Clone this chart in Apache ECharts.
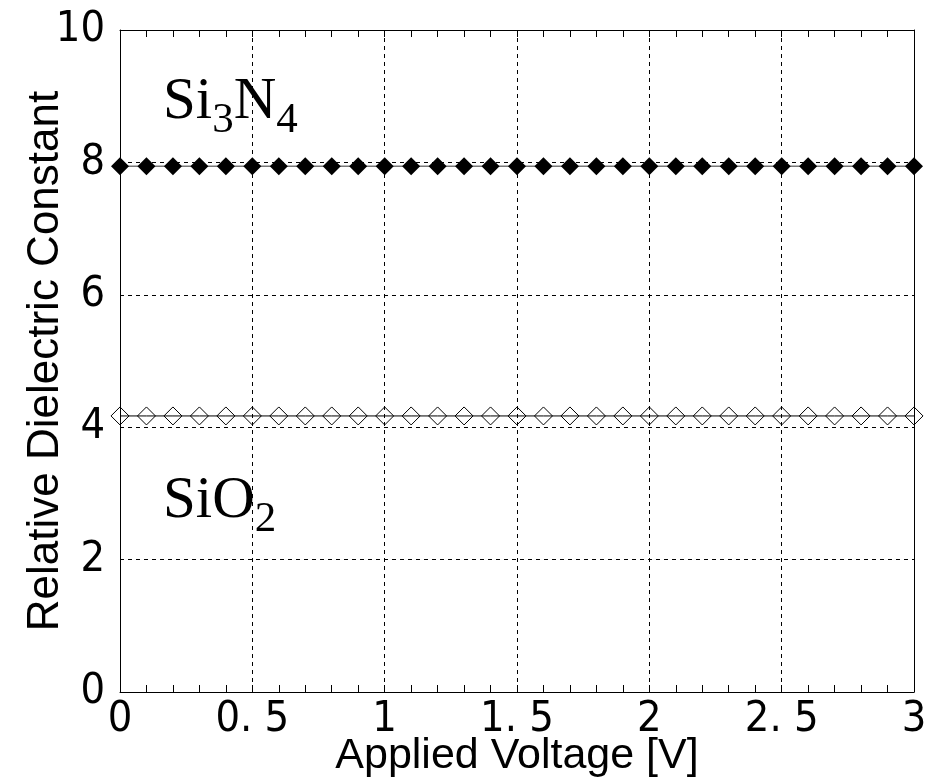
<!DOCTYPE html>
<html>
<head>
<meta charset="utf-8">
<script src="https://cdn.jsdelivr.net/npm/echarts@6/dist/echarts.min.js"></script>
<style>
  html, body { margin: 0; padding: 0; background: #fff; }
  #chart { width: 940px; height: 778px; }
</style>
</head>
<body>
<div id="chart"></div>
<script>
// applied voltage samples [V]
const voltage = [0, 0.1, 0.2, 0.3, 0.4, 0.5, 0.6, 0.7, 0.8, 0.9, 1.0,
  1.1, 1.2, 1.3, 1.4, 1.5, 1.6, 1.7, 1.8, 1.9, 2.0,
  2.1, 2.2, 2.3, 2.4, 2.5, 2.6, 2.7, 2.8, 2.9, 3.0];
// relative dielectric constant
const si3n4 = [7.94, 7.94, 7.94, 7.94, 7.94, 7.94, 7.94, 7.94, 7.94, 7.94, 7.94,
  7.94, 7.94, 7.94, 7.94, 7.94, 7.94, 7.94, 7.94, 7.94, 7.94,
  7.94, 7.94, 7.94, 7.94, 7.94, 7.94, 7.94, 7.94, 7.94, 7.94];
const sio2 = [4.17, 4.17, 4.17, 4.17, 4.17, 4.17, 4.17, 4.17, 4.17, 4.17, 4.17,
  4.17, 4.17, 4.17, 4.17, 4.17, 4.17, 4.17, 4.17, 4.17, 4.17,
  4.17, 4.17, 4.17, 4.17, 4.17, 4.17, 4.17, 4.17, 4.17, 4.17];
const xTicks = [0, 0.5, 1, 1.5, 2, 2.5, 3];
const xTickLabels = ["0", "0. 5", "1", "1. 5", "2", "2. 5", "3"];

const numFont = '"Liberation Sans Narrow", "DejaVu Sans Condensed", "Noto Sans CJK JP", sans-serif';
const titleFont = '"Liberation Sans", Arial, sans-serif';
const serif = '"Liberation Serif", "Times New Roman", serif';

function xLabel(v) {
  const i = xTicks.findIndex((t) => Math.abs(t - v) < 1e-6);
  return i >= 0 ? xTickLabels[i] : "";
}

const chart = echarts.init(document.getElementById("chart"), null, { renderer: "canvas" });

const dashed = { color: "#000", width: 1, type: [4, 4] };

const baseX = {
  type: "value",
  min: 0,
  max: 3,
  interval: 0.5,
  axisLine: { show: true, onZero: false, lineStyle: { color: "#000", width: 1 } },
  axisTick: { show: true, inside: true, length: 7, lineStyle: { color: "#000" } },
  minorTick: { show: true, splitNumber: 5, length: 7, lineStyle: { color: "#000" } },
};

chart.setOption({
  animation: false,
  backgroundColor: "#fff",
  grid: { left: 120, right: 26, top: 30, bottom: 86, containLabel: false, outerBoundsMode: "none" },
  xAxis: [
    Object.assign({}, baseX, {
      position: "bottom",
      name: "Applied Voltage [V]",
      nameLocation: "middle",
      nameGap: 43,
      nameMoveOverlap: false,
      nameTextStyle: { fontFamily: titleFont, fontSize: 43, color: "#000" },
      axisLabel: {
        formatter: xLabel,
        fontFamily: numFont,
        fontSize: 43,
        color: "#000",
        margin: 6,
      },
      splitLine: { show: true, lineStyle: dashed },
    }),
    Object.assign({}, baseX, {
      position: "top",
      axisLabel: { show: false },
      splitLine: { show: false },
    }),
  ],
  yAxis: [
    {
      type: "value",
      min: 0,
      max: 10,
      interval: 2,
      position: "left",
      name: "Relative Dielectric Constant",
      nameLocation: "middle",
      nameGap: 52,
      nameMoveOverlap: false,
      nameTextStyle: { fontFamily: titleFont, fontSize: 44, color: "#000" },
      axisLine: { show: true, onZero: false, lineStyle: { color: "#000", width: 1 } },
      axisTick: { show: false },
      axisLabel: { fontFamily: numFont, fontSize: 43, color: "#000", margin: 15 },
      splitLine: { show: true, lineStyle: dashed },
    },
    {
      type: "value",
      min: 0,
      max: 10,
      interval: 2,
      position: "right",
      axisLine: { show: true, onZero: false, lineStyle: { color: "#000", width: 1 } },
      axisTick: { show: false },
      axisLabel: { show: false },
      splitLine: { show: false },
    },
  ],
  series: [
    {
      name: "Si3N4",
      type: "line",
      data: voltage.map((v, i) => [v, si3n4[i]]),
      symbol: "diamond",
      symbolSize: 18,
      itemStyle: { color: "#000", borderColor: "#000", borderWidth: 0 },
      lineStyle: { color: "#777", width: 1.5 },
      z: 5,
    },
    {
      name: "SiO2",
      type: "line",
      data: voltage.map((v, i) => [v, sio2[i]]),
      symbol: "diamond",
      symbolSize: 18,
      itemStyle: { color: "rgba(255,255,255,0)", borderColor: "#000", borderWidth: 1 },
      lineStyle: { color: "#000", width: 1 },
      z: 5,
    },
  ],
  graphic: [
    {
      type: "text",
      left: 163,
      top: 73,
      z: 10,
      style: {
        text: "{a|Si}{b|3}{a|N}{b|4}",
        rich: {
          a: { fontFamily: serif, fontSize: 59, color: "#000", lineHeight: 80, verticalAlign: "middle" },
          b: { fontFamily: serif, fontSize: 43, color: "#000", lineHeight: 80, verticalAlign: "bottom" },
        },
      },
    },
    {
      type: "text",
      left: 163,
      top: 472,
      z: 10,
      style: {
        text: "{a|SiO}{b|2}",
        rich: {
          a: { fontFamily: serif, fontSize: 59, color: "#000", lineHeight: 80, verticalAlign: "middle" },
          b: { fontFamily: serif, fontSize: 43, color: "#000", lineHeight: 80, verticalAlign: "bottom" },
        },
      },
    },
  ],
});
</script>
</body>
</html>
